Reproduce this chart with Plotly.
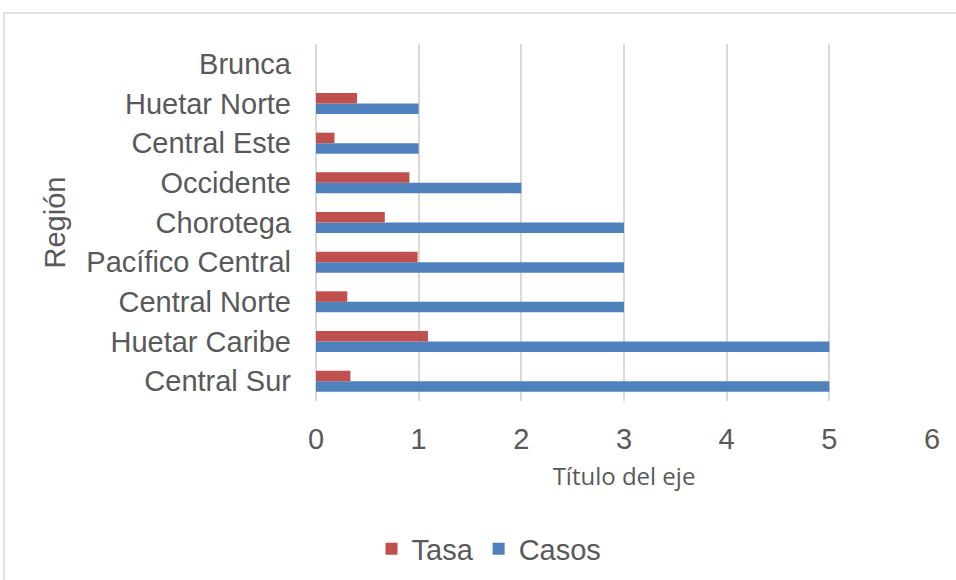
import plotly.graph_objects as go

regiones = ["Central Sur", "Huetar Caribe", "Central Norte", "Pacífico Central",
            "Chorotega", "Occidente", "Central Este", "Huetar Norte", "Brunca"]
casos = [5, 5, 3, 3, 3, 2, 1, 1, 0]
tasa = [0.335, 1.09, 0.305, 0.99, 0.67, 0.91, 0.18, 0.40, 0]
x_ticks = [0, 1, 2, 3, 4, 5, 6]

L, R, T, B = 316, 24, 44, 179
W, H = 956, 580
pw, ph = W - L - R, H - T - B

def px(x):
    return (x - L) / pw

def py(y):
    return (H - B - y) / ph

fig = go.Figure()
fig.add_trace(go.Bar(y=regiones, x=casos, name="Casos", orientation="h",
                     marker=dict(color="#4F81BD", line=dict(width=0))))
fig.add_trace(go.Bar(y=regiones, x=tasa, name="Tasa", orientation="h",
                     marker=dict(color="#C0504D", line=dict(width=0))))

fig.update_layout(
    width=W, height=H,
    margin=dict(l=L, r=R, t=T, b=B, autoexpand=False),
    paper_bgcolor="white", plot_bgcolor="white",
    barmode="group", bargap=0.47, bargroupgap=0,
    font=dict(family="Liberation Sans, Arial", color="#595959"),
    legend=dict(orientation="h", traceorder="reversed",
                x=px(489), xanchor="center", y=py(549), yanchor="middle",
                font=dict(size=29, color="#595959"), itemwidth=30),
    shapes=[dict(type="rect", xref="paper", yref="paper",
                 x0=px(4), x1=px(962), y0=py(586), y1=py(13),
                 line=dict(color="#D9D9D9", width=1.5), fillcolor="rgba(0,0,0,0)",
                 layer="below")],
)
fig.update_xaxes(range=[0, 6], tickvals=x_ticks, showgrid=True, gridcolor="#D9D9D9",
                 gridwidth=1.5, zeroline=True, zerolinecolor="#D9D9D9", zerolinewidth=1.5,
                 showline=False, ticks="", tickfont=dict(size=29, color="#595959"),
                 ticklabelstandoff=18,
                 title=dict(text="Título del eje", font=dict(size=24, family="Open Sans", color="#595959"),
                            standoff=14),
                 fixedrange=True)
fig.update_yaxes(showgrid=False, zeroline=False, showline=False, ticks="",
                 tickfont=dict(size=29, color="#595959"), ticklabelstandoff=24,
                 title=dict(text="Región", font=dict(size=29, color="#595959"), standoff=12),
                 fixedrange=True)

fig.write_html("out.html", config={"displayModeBar": False},
               post_script="document.body.style.margin='0';")
